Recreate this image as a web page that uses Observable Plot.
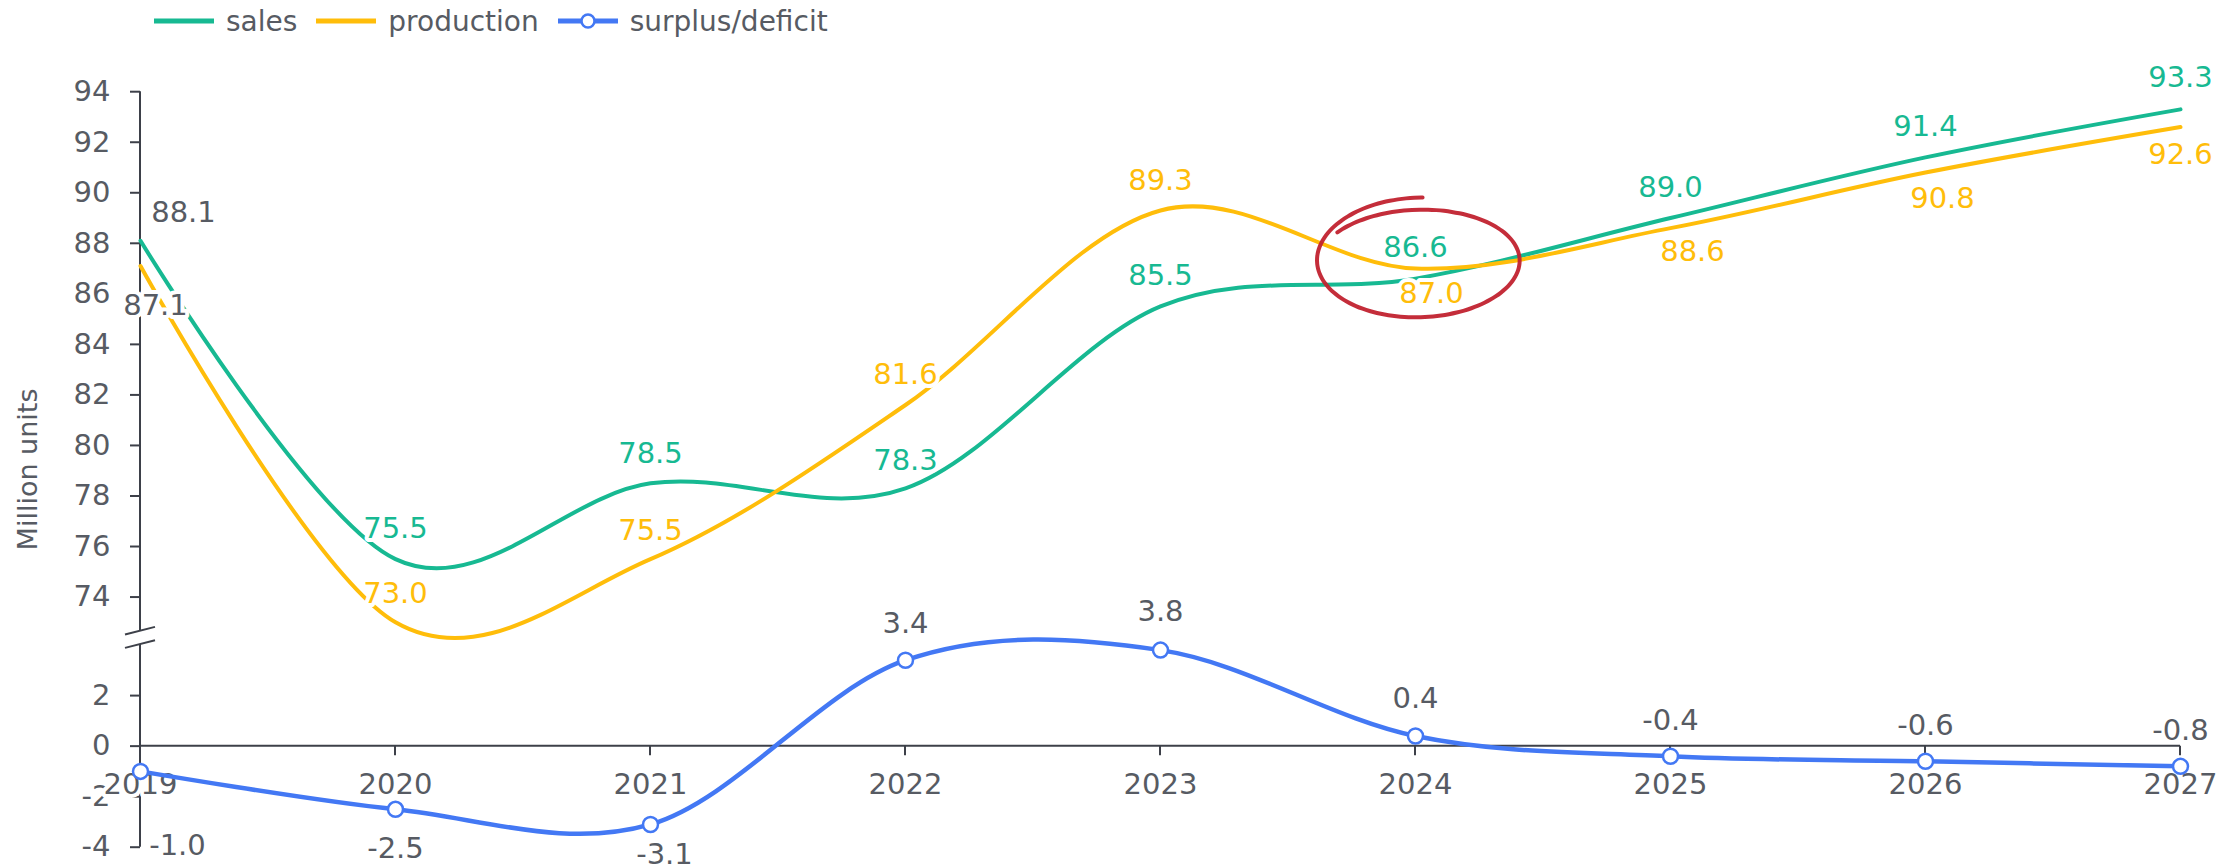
<!DOCTYPE html>
<html><head><meta charset="utf-8">
<script src="https://cdn.jsdelivr.net/npm/d3@7"></script>
<script src="https://cdn.jsdelivr.net/npm/@observablehq/plot@0.6"></script>
<style>
body{margin:0;background:#fff;font-family:"DejaVu Sans",sans-serif;}
#legend{height:42px;display:flex;align-items:center;padding-left:154px;gap:19px;font-size:28px;color:#575b63;}
.item{display:flex;align-items:center;gap:12px;}
.item svg{display:block}
</style></head><body>
<div id="legend"></div>
<div id="chart"></div>
<script>
// ---- data ----
const years = [2019, 2020, 2021, 2022, 2023, 2024, 2025, 2026, 2027];
const sales = [88.1, 75.5, 78.5, 78.3, 85.5, 86.6, 89.0, 91.4, 93.3];
const production = [87.1, 73.0, 75.5, 81.6, 89.3, 87.0, 88.6, 90.8, 92.6];
const surplus = [-1.0, -2.5, -3.1, 3.4, 3.8, 0.4, -0.4, -0.6, -0.8];
const upperTicks = [74, 76, 78, 80, 82, 84, 86, 88, 90, 92, 94];
const lowerTicks = [-4, -2, 0, 2];
const seriesNames = ["sales", "production", "surplus/deficit"];
const yTitle = "Million units";
const highlight = {year: 2024, value: 87.3};

// ---- layout / style ----
const breakOffset = 68.1; // upper panel shift
const colors = {sales: "#17b992", production: "#ffbd0a", surplus: "#4378f4", text: "#575b63", axis: "#3d4049", mark: "#c1222f"};
const labelDx = {
  sales:      [43, 0, 0, 0, 0, 0, 0, 0, 0],
  production: [15, 0, 0, 0, 0, 16, 22, 17, 0],
  surplus:    [37, 0, 14, 0, 0, 0, 0, 0, 0]
};
const labelDy = {
  sales:      [-28, -30, -30, -28, -31, -31, -30, -31, -32],
  production: [40, -29, -28, -30, -30, 25, 24, 26, 28],
  surplus:    [74, 39, 30, -37, -38, -37, -36, -36, -36]
};
const labelGray = {sales: [true], production: [true], surplus: years.map(() => true)};

// ---- legend ----
const legend = d3.select("#legend");
const legendColors = [colors.sales, colors.production, colors.surplus];
seriesNames.forEach((name, i) => {
  const item = legend.append("div").attr("class", "item");
  const s = item.append("svg").attr("width", 60).attr("height", 18);
  s.append("line").attr("x1", 0).attr("x2", 60).attr("y1", 9).attr("y2", 9)
    .attr("stroke", legendColors[i]).attr("stroke-width", 5);
  if (i === 2) s.append("circle").attr("cx", 30).attr("cy", 9).attr("r", 6.5)
    .attr("fill", "white").attr("stroke", legendColors[i]).attr("stroke-width", 2.5);
  item.append("span").text(name);
});

// ---- tables ----
const tf = v => v - breakOffset;
const salesData = years.map((x, i) => ({x, v: sales[i], y: tf(sales[i])}));
const prodData = years.map((x, i) => ({x, v: production[i], y: tf(production[i])}));
const surData = years.map((x, i) => ({x, v: surplus[i], y: surplus[i]}));
const axisTicks = lowerTicks.concat(upperTicks.map(tf));
const fmt = d => {
  const v = d > 5 ? Math.round(d + breakOffset) : Math.round(d);
  return String(v);
};

const breakTop = 4.55, breakBottom = 4.02;

function decorations(index, scales) {
  const {x, y} = scales;
  const g = d3.create("svg:g").attr("stroke", colors.axis).attr("stroke-width", 2).attr("fill", "none");
  const x0 = x(years[0]);
  g.append("line").attr("x1", x0).attr("x2", x0)
    .attr("y1", y(tf(upperTicks[upperTicks.length - 1]))).attr("y2", y(breakTop));
  g.append("line").attr("x1", x0).attr("x2", x0)
    .attr("y1", y(breakBottom)).attr("y2", y(lowerTicks[0]));
  for (const b of [breakTop, breakBottom]) {
    const yb = y(b);
    g.append("line").attr("x1", x0 - 15).attr("y1", yb + 3.8).attr("x2", x0 + 15).attr("y2", yb - 3.8);
  }
  // x axis on zero line
  g.append("line").attr("x1", x0).attr("x2", x(years[years.length - 1]))
    .attr("y1", y(0)).attr("y2", y(0));
  for (const yr of years) {
    g.append("line").attr("x1", x(yr)).attr("x2", x(yr)).attr("y1", y(0)).attr("y2", y(0) + 9.5);
  }
  return g.node();
}

function scribble(index, scales) {
  const {x, y} = scales;
  const cx = x(highlight.year) + 4, cy = y(tf(highlight.value));
  const rx = (x(years[1]) - x(years[0])) * 0.403;
  const pts = [];
  const a0 = -88, a1 = -505, n = 90;
  for (let i = 0; i <= n; i++) {
    const t = i / n;
    const a = (a0 + (a1 - a0) * t) * Math.PI / 180;
    const ry = 63 - 14 * t;
    const rxx = rx * (1 - 0.03 * t);
    pts.push([cx + rxx * Math.cos(a), cy + ry * Math.sin(a)]);
  }
  const path = d3.line().curve(d3.curveBasis)(pts);
  return d3.create("svg:path").attr("d", path).attr("fill", "none")
    .attr("stroke", colors.mark).attr("stroke-width", 4).attr("stroke-linecap", "round")
    .attr("opacity", 0.95).node();
}

function labelMarks(data, key, color) {
  return data.map((d, i) => Plot.text([d], {
    x: "x", y: "y", text: dd => dd.v.toFixed(1),
    dx: labelDx[key][i], dy: labelDy[key][i],
    fill: labelGray[key][i] ? colors.text : color,
    stroke: "white", strokeWidth: 8, strokeLinejoin: "round",
    fontSize: 29
  }));
}

const chart = Plot.plot({
  width: 2239,
  height: 826,
  marginLeft: 140,
  marginRight: 59,
  marginTop: 49.2,
  marginBottom: 21.3,
  style: {fontFamily: "DejaVu Sans, sans-serif", background: "white", overflow: "visible"},
  x: {domain: [years[0], years[years.length - 1]], axis: null},
  y: {domain: [lowerTicks[0], tf(upperTicks[upperTicks.length - 1])], axis: null},
  marks: [
    Plot.axisY(axisTicks, {tickFormat: fmt, tickSize: 10, tickPadding: 20, fontSize: 29,
      stroke: colors.axis, strokeWidth: 2, fill: colors.text, label: null}),
    decorations,
    Plot.text(years, {x: d => d, y: 0, text: d => String(d), dy: 39, fontSize: 29,
      fill: colors.text, stroke: "white", strokeWidth: 8, strokeLinejoin: "round"}),
    Plot.line(salesData, {x: "x", y: "y", stroke: colors.sales, strokeWidth: 4, curve: "cardinal", tension: 0}),
    Plot.line(prodData, {x: "x", y: "y", stroke: colors.production, strokeWidth: 4, curve: "cardinal", tension: 0}),
    Plot.line(surData, {x: "x", y: "y", stroke: colors.surplus, strokeWidth: 4.5, curve: "cardinal", tension: 0}),
    Plot.dot(surData, {x: "x", y: "y", r: 7.5, fill: "white", stroke: colors.surplus, strokeWidth: 2.5}),
    ...labelMarks(salesData, "sales", colors.sales),
    ...labelMarks(prodData, "production", colors.production),
    ...labelMarks(surData, "surplus", colors.text),
    scribble,
    Plot.text([yTitle], {frameAnchor: "left", textAnchor: "middle", rotate: -90, dx: -112, fontSize: 27, fill: colors.text})
  ]
});
document.getElementById("chart").appendChild(chart);
</script>
</body></html>
